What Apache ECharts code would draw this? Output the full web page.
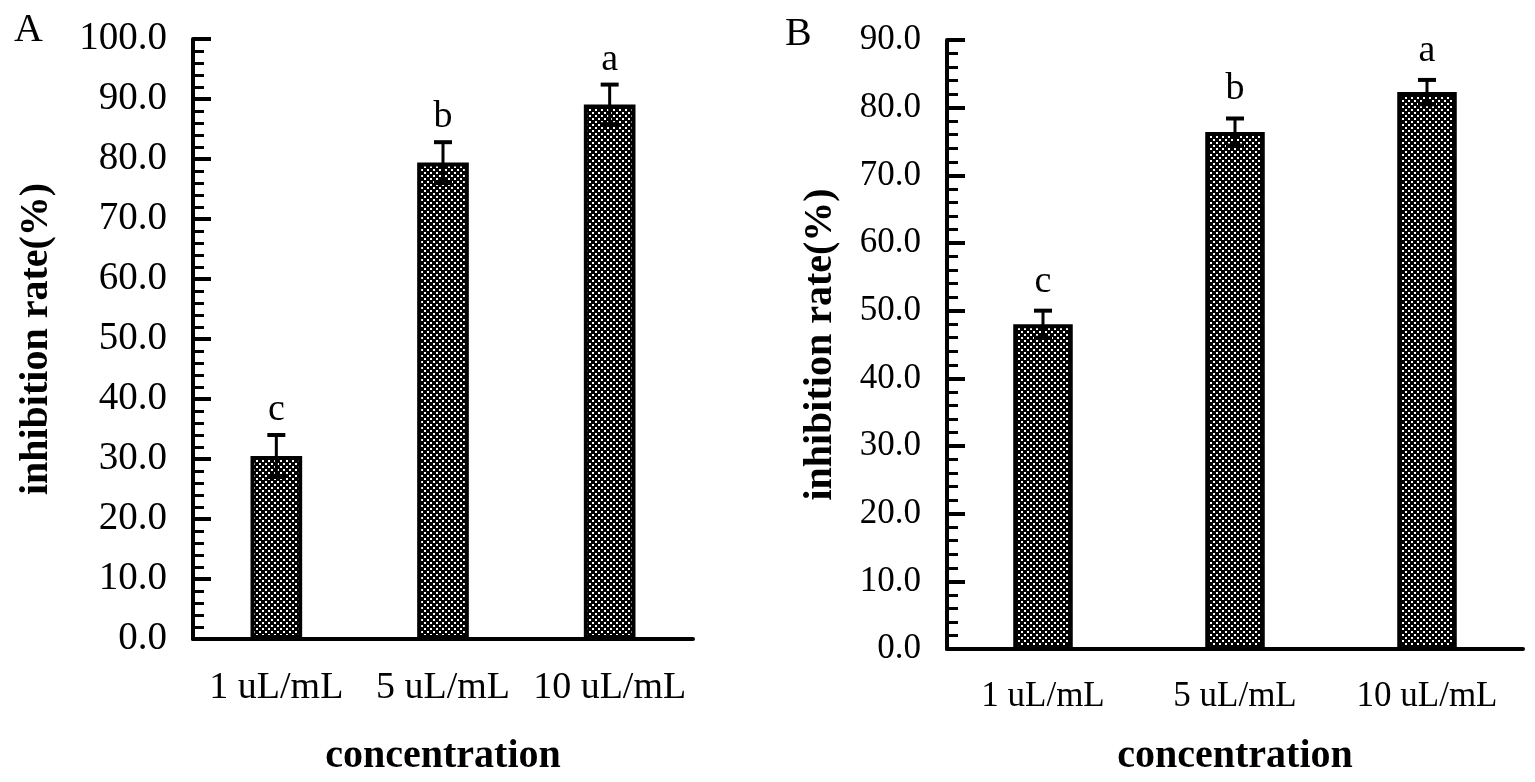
<!DOCTYPE html>
<html>
<head>
<meta charset="utf-8">
<script src="https://cdn.jsdelivr.net/npm/echarts@6/dist/echarts.min.js"></script>
<style>
html,body{margin:0;padding:0;background:#fff;}
#chart{width:1535px;height:782px;}
</style>
</head>
<body>
<div id="chart"></div>
<script>
// ---- data ----
const categories = ['1 uL/mL', '5 uL/mL', '10 uL/mL'];
const meansA = [30.5, 79.4, 89.1];
const errorsA = [3.5, 3.4, 3.3];
const lettersA = ['c', 'b', 'a'];
const meansB = [48.0, 76.4, 82.3];
const errorsB = [2.0, 2.0, 1.8];
const lettersB = ['c', 'b', 'a'];
const yMaxA = 100;
const yMaxB = 90;
const yInterval = 10;
const yAxisName = 'inhibition rate(%)';
const xAxisName = 'concentration';
const panelLabels = ['A', 'B'];

// ---- pattern ----
function makePattern() {
  const c = document.createElement('canvas');
  c.width = 6; c.height = 6;
  const g = c.getContext('2d');
  g.fillStyle = '#000';
  g.fillRect(0, 0, 6, 6);
  g.fillStyle = '#fff';
  g.fillRect(1, 1, 2, 2);
  g.fillRect(4, 4, 2, 2);
  return c;
}
const pattern = { image: makePattern(), repeat: 'repeat' };

const SERIF = "'Liberation Serif', 'Times New Roman', serif";

function errData(means, errs) {
  return means.map((m, i) => [i, m - errs[i], m + errs[i]]);
}

function errRenderer(letters, letterGap) {
  return function (params, api) {
    const x = api.value(0);
    const lo = api.coord([x, api.value(1)]);
    const hi = api.coord([x, api.value(2)]);
    const half = 9;
    return {
      type: 'group',
      children: [
        { type: 'line', shape: { x1: hi[0], y1: hi[1], x2: lo[0], y2: lo[1] }, style: { stroke: '#000', lineWidth: 3 } },
        { type: 'line', shape: { x1: hi[0] - half, y1: hi[1], x2: hi[0] + half, y2: hi[1] }, style: { stroke: '#000', lineWidth: 4 } },
        { type: 'line', shape: { x1: lo[0] - half, y1: lo[1], x2: lo[0] + half, y2: lo[1] }, style: { stroke: '#000', lineWidth: 4 } },
        { type: 'text', x: hi[0], y: hi[1] - letterGap,
          style: { text: letters[params.dataIndex], fill: '#000', font: '38px ' + SERIF, textAlign: 'center', textVerticalAlign: 'bottom' } }
      ]
    };
  };
}

function yAxisCfg(gridIndex, max, fontSize, gap) {
  return {
    type: 'value', gridIndex: gridIndex, min: 0, max: max, interval: yInterval,
    name: yAxisName, nameLocation: 'middle', nameGap: gap,
    nameTextStyle: { fontFamily: SERIF, fontWeight: 'bold', fontSize: 40, color: '#000' },
    axisLine: { show: true, lineStyle: { color: '#000', width: 4 } },
    axisTick: { show: true, inside: true, length: 18, lineStyle: { color: '#000', width: 4 } },
    minorTick: { show: true, splitNumber: 5, length: 11, lineStyle: { color: '#000', width: 3 } },
    splitLine: { show: false },
    axisLabel: { fontFamily: SERIF, fontSize: fontSize, color: '#000', margin: 26,
      formatter: v => v.toFixed(1) }
  };
}

function xAxisCfg(gridIndex, fontSize, labelMargin, nameGap) {
  return {
    type: 'category', gridIndex: gridIndex, data: categories,
    name: xAxisName, nameLocation: 'middle', nameGap: nameGap,
    nameTextStyle: { fontFamily: SERIF, fontWeight: 'bold', fontSize: 40, color: '#000' },
    axisLine: { show: true, lineStyle: { color: '#000', width: 4 } },
    axisTick: { show: false },
    axisLabel: { fontFamily: SERIF, fontSize: fontSize, color: '#000', margin: labelMargin, interval: 0 }
  };
}

const chart = echarts.init(document.getElementById('chart'));
chart.setOption({
  backgroundColor: '#fff',
  animation: false,
  grid: [
    { left: 193, top: 39, width: 500, height: 603 },
    { left: 947, top: 40, width: 576, height: 613 }
  ],
  xAxis: [xAxisCfg(0, 38, 30, 98), xAxisCfg(1, 35, 30, 88)],
  yAxis: [yAxisCfg(0, yMaxA, 39, 136), yAxisCfg(1, yMaxB, 35, 106)],
  graphic: [
    { type: 'text', left: 14, top: 10, style: { text: panelLabels[0], font: '40px ' + SERIF, fill: '#000' } },
    { type: 'text', left: 785, top: 14, style: { text: panelLabels[1], font: '40px ' + SERIF, fill: '#000' } }
  ],
  series: [
    { type: 'bar', xAxisIndex: 0, yAxisIndex: 0, data: meansA, barWidth: '31%',
      itemStyle: { color: pattern, borderColor: '#000', borderWidth: 4 } },
    { type: 'custom', xAxisIndex: 0, yAxisIndex: 0, data: errData(meansA, errorsA),
      renderItem: errRenderer(lettersA, 6), z: 5 },
    { type: 'bar', xAxisIndex: 1, yAxisIndex: 1, data: meansB, barWidth: '31%',
      itemStyle: { color: pattern, borderColor: '#000', borderWidth: 4 } },
    { type: 'custom', xAxisIndex: 1, yAxisIndex: 1, data: errData(meansB, errorsB),
      renderItem: errRenderer(lettersB, 10), z: 5 }
  ]
});
</script>
</body>
</html>
